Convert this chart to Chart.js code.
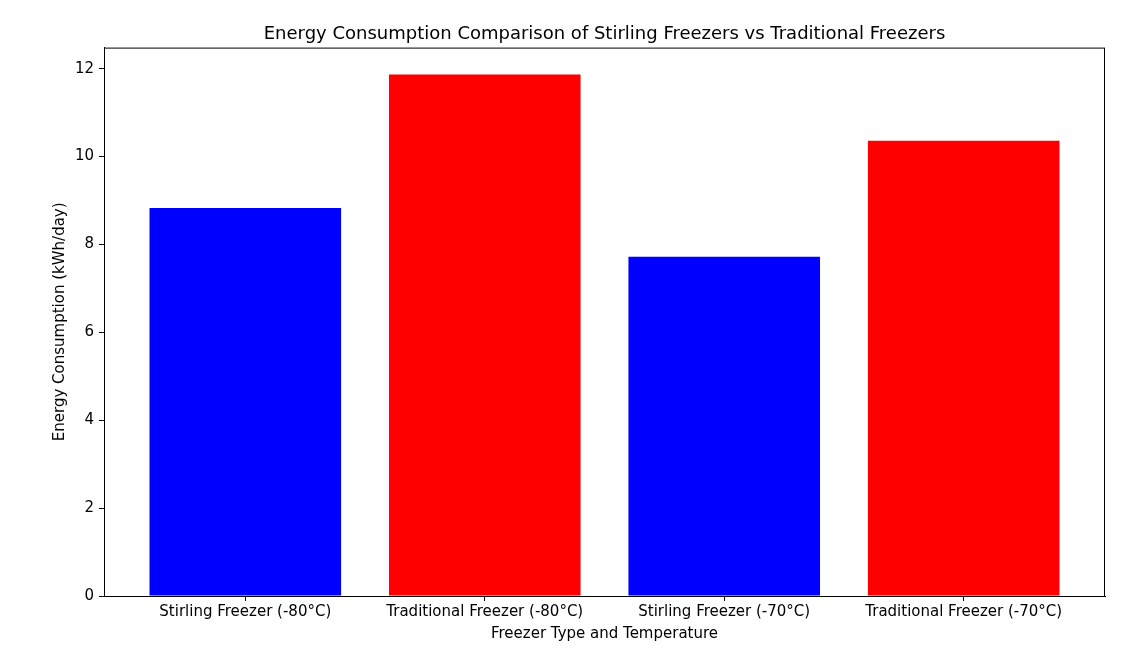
<!DOCTYPE html>
<html>
<head>
<meta charset="utf-8">
<script src="https://cdn.jsdelivr.net/npm/chart.js@4.4.0/dist/chart.umd.min.js"></script>
<style>
    body { margin: 0; background: #fff; }
    #wrap { width: 1139px; height: 648px; }
</style>
</head>
<body>
<div id="wrap"><canvas id="bar-chart"></canvas></div>
<script>
// Dados
var categories = ['Stirling Freezer (-80°C)', 'Traditional Freezer (-80°C)', 'Stirling Freezer (-70°C)', 'Traditional Freezer (-70°C)'];
var consumption = [8.83, 11.87, 7.72, 10.36];
var barColors = ['#0000ff', '#ff0000', '#0000ff', '#ff0000'];
var yTicks = [0, 2, 4, 6, 8, 10, 12];

var barChart = null;

// Moldura em volta da área do gráfico (como no matplotlib)
var frame = {
    id: 'frame',
    afterLayout: function(chart) {
        // centraliza o título sobre a área do gráfico
        if (chart.titleBlock) {
            chart.titleBlock.left = chart.chartArea.left;
            chart.titleBlock.right = chart.chartArea.right;
        }
    },
    afterDraw: function(chart) {
        let a = chart.chartArea, ctx = chart.ctx;
        ctx.save();
        ctx.strokeStyle = '#000';
        ctx.lineWidth = 1;
        ctx.strokeRect(a.left + 0.5, a.top + 0.5, a.right - a.left - 1, a.bottom - a.top);
        ctx.restore();
    }
};

function initBarChart() {
    Chart.defaults.font.family = 'DejaVu Sans';
    Chart.defaults.color = '#000';

    barChart = new Chart(document.getElementById('bar-chart'), {
        type: 'bar',
        data: {
            datasets: [{
                data: consumption.map(function(v, i) { return {x: i, y: v}; }),
                backgroundColor: barColors,
                borderWidth: 0,
                barPercentage: 0.8,
                categoryPercentage: 1.0
            }]
        },
        options: {
            responsive: true,
            maintainAspectRatio: false,
            animation: false,
            layout: { padding: { left: 0, right: 34, top: 0, bottom: 0 } },
            plugins: {
                legend: { display: false },
                tooltip: { enabled: false },
                title: {
                    display: true,
                    text: 'Energy Consumption Comparison of Stirling Freezers vs Traditional Freezers',
                    font: { size: 18, weight: 'normal' },
                    padding: { top: 24, bottom: 2 }
                }
            },
            scales: {
                x: {
                    type: 'linear',
                    min: -0.59,
                    max: 3.59,
                    offset: false,
                    afterBuildTicks: function(scale) {
                        scale.ticks = categories.map(function(c, i) { return {value: i}; });
                    },
                    afterFit: function(scale) { scale.height = 52; },
                    ticks: {
                        font: { size: 15 },
                        padding: 2,
                        maxRotation: 0,
                        callback: function(value) { return categories[value]; }
                    },
                    grid: { display: true, offset: false, drawOnChartArea: false, drawTicks: true, tickLength: 5, color: '#000' },
                    border: { display: true, color: '#000' },
                    title: {
                        display: true,
                        text: 'Freezer Type and Temperature',
                        font: { size: 15 },
                        padding: { top: 0, bottom: 5 }
                    }
                },
                y: {
                    min: 0,
                    max: 12.48,
                    afterBuildTicks: function(scale) {
                        scale.ticks = yTicks.map(function(v) { return {value: v}; });
                    },
                    afterFit: function(scale) { scale.width = 104; },
                    ticks: { font: { size: 15 }, padding: 5 },
                    grid: { display: true, drawOnChartArea: false, drawTicks: true, tickLength: 5, color: '#000' },
                    border: { display: true, color: '#000' },
                    title: {
                        display: true,
                        text: 'Energy Consumption (kWh/day)',
                        font: { size: 15 },
                        padding: { top: 51, bottom: 0 }
                    }
                }
            }
        },
        plugins: [frame]
    });
}

initBarChart();
</script>
</body>
</html>
